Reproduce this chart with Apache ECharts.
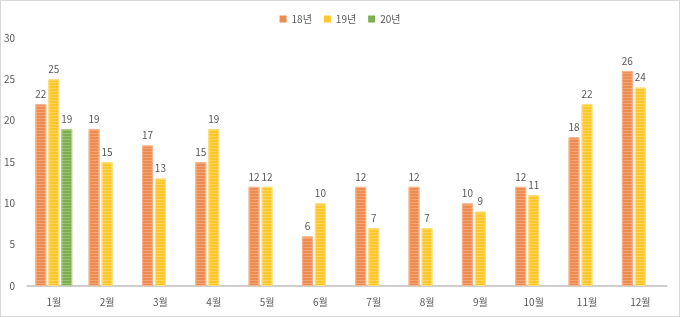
<!DOCTYPE html>
<html><head><meta charset="utf-8">
<script src="https://cdn.jsdelivr.net/npm/echarts@6/dist/echarts.min.js"></script>
<style>html,body{margin:0;padding:0;background:#fff}#c{width:680px;height:317px;box-sizing:border-box;border:1px solid #d9d9d9}</style>
</head><body><div id="c"></div>
<script>
const categories = ['1월','2월','3월','4월','5월','6월','7월','8월','9월','10월','11월','12월'];
const seriesNames = ['18년','19년','20년'];
const y18 = [22,19,17,15,12,6,12,12,10,12,18,26];
const y19 = [25,15,13,19,12,10,7,7,9,11,22,24];
const y20 = [19,null,null,null,null,null,null,null,null,null,null,null];
const colors = ['#EE8B4F','#FDC72A','#7EAE50'];
const borders = ['#F6B48C','#FEDD7A','#AECF8E'];
const chart = echarts.init(document.getElementById('c'));
const decal = {symbol:'rect', dashArrayX:[[1,0]], dashArrayY:[1,2], color:'rgba(255,255,255,0.22)', rotation:0, symbolSize:1};
const mk = (i, data) => ({
  name: seriesNames[i], type:'bar', data, barWidth:11, barGap:'18%',
  itemStyle:{color:colors[i], borderColor:borders[i], borderWidth:1, decal},
  label:{show:true, position:'top', distance:5, color:'#595959', fontSize:10, fontFamily:'Noto Sans CJK KR'}
});
chart.setOption({
  animation:false,
  legend:{top:8, left:'center', itemWidth:7, itemHeight:7, itemGap:12, icon:'rect',
    itemStyle:{decal:'none', borderWidth:0},
    textStyle:{color:'#595959', fontSize:10, fontFamily:'Noto Sans CJK KR'}},
  grid:{left:26, right:12, top:37, bottom:30, containLabel:false},
  xAxis:{type:'category', data:categories,
    axisLine:{lineStyle:{color:'#BFBFBF', width:1.5}}, axisTick:{show:false},
    axisLabel:{color:'#595959', fontSize:10, margin:11, fontFamily:'Noto Sans CJK KR'}},
  yAxis:{type:'value', min:0, max:30, interval:5,
    axisLine:{show:false}, axisTick:{show:false}, splitLine:{show:false},
    axisLabel:{color:'#595959', fontSize:10, margin:12, fontFamily:'Noto Sans CJK KR'}},
  series:[mk(0,y18), mk(1,y19), mk(2,y20)]
});
</script></body></html>
